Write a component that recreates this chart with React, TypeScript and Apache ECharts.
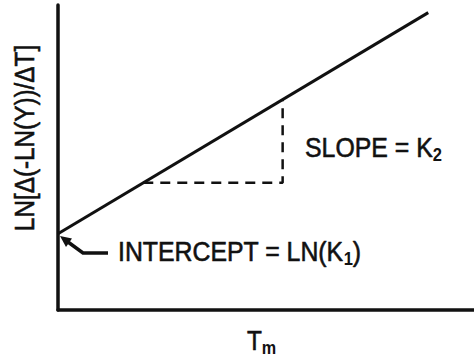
import React, { useEffect, useRef } from "react";
import * as echarts from "echarts";

// Schematic data (axis units 0..100)
const lineX = [0, 89];
const lineY = [25, 97.5];
const triX = [20.5, 54, 54];
const triY = [41.7, 41.7, 69.0];
const yAxisTitle = "LN[Δ(-LN(Y))/ΔT]";
const xAxisTitle = "T";
const xAxisSub = "m";
const slopeText = "SLOPE = K";
const slopeSub = "2";
const interceptText = "INTERCEPT = LN(K";
const interceptSub = "1";

const INK = "#111";
const FONT = "Liberation Sans, Arial, sans-serif";

export default function App() {
  const ref = useRef<HTMLDivElement>(null);
  useEffect(() => {
    if (!ref.current) return;
    const chart = echarts.init(ref.current, undefined, { renderer: "svg" });
    const mainStyle = {
      fontSize: 27, lineHeight: 30, fontFamily: FONT, fill: INK, verticalAlign: "top",
      stroke: INK, lineWidth: 0.6,
    };
    const subStyle = {
      fontSize: 18, lineHeight: 18, fontFamily: FONT, fontWeight: "bold", fill: INK,
      verticalAlign: "top", padding: [12, 0, 0, 0],
    };
    chart.setOption({
      animation: false,
      backgroundColor: "#fff",
      grid: { left: 58, right: 0, top: 5, bottom: 47 },
      xAxis: {
        type: "value", min: 0, max: 100,
        axisLine: { show: true, onZero: false, lineStyle: { color: INK, width: 3.5 } },
        axisTick: { show: false }, axisLabel: { show: false }, splitLine: { show: false },
      },
      yAxis: {
        type: "value", min: 0, max: 100,
        axisLine: { show: true, onZero: false, lineStyle: { color: INK, width: 3.5 } },
        axisTick: { show: false }, axisLabel: { show: false }, splitLine: { show: false },
      },
      series: [
        {
          type: "line", data: lineX.map((x, i) => [x, lineY[i]]), symbol: "none",
          lineStyle: { color: INK, width: 3 }, silent: true,
        },
        {
          type: "line", data: triX.map((x, i) => [x, triY[i]]), symbol: "none",
          lineStyle: { color: INK, width: 2.5, type: [10, 7] }, silent: true,
        },
      ],
      graphic: [
        {
          type: "text", x: 25, y: 138, rotation: Math.PI / 2, scaleX: 0.9,
          style: {
            text: yAxisTitle, fontSize: 27, fontFamily: FONT, fill: INK,
            align: "center", verticalAlign: "middle", stroke: INK, lineWidth: 0.6,
          },
        },
        {
          type: "text", x: 247, y: 327, scaleX: 0.9,
          style: { text: `{a|${xAxisTitle}}{b|${xAxisSub}}`, rich: { a: mainStyle, b: subStyle } },
        },
        {
          type: "text", x: 305, y: 134, scaleX: 0.92,
          style: { text: `{a|${slopeText}}{b|${slopeSub}}`, rich: { a: mainStyle, b: subStyle } },
        },
        {
          type: "text", x: 118, y: 238, scaleX: 0.92,
          style: {
            text: `{a|${interceptText}}{b|${interceptSub}}{a|)}`,
            rich: { a: mainStyle, b: subStyle },
          },
        },
        {
          type: "polyline",
          shape: { points: [[68, 242], [83, 253], [108, 253]] },
          style: { stroke: INK, lineWidth: 3.5, fill: "none" },
        },
        {
          type: "polygon",
          shape: { points: [[60, 236], [72, 238.5], [66, 247]] },
          style: { fill: INK },
        },
      ],
    });
    return () => chart.dispose();
  }, []);
  return (
    <div
      ref={ref}
      style={{ position: "absolute", left: 0, top: 0, width: 474, height: 357, background: "#fff" }}
    />
  );
}
